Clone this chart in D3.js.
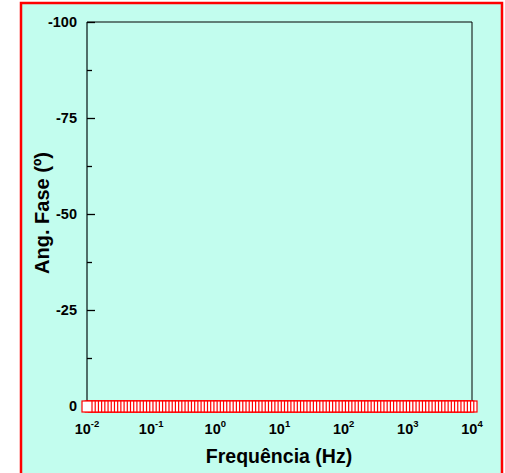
<!DOCTYPE html>
<html><head><meta charset="utf-8">
<script src="https://cdn.jsdelivr.net/npm/d3@7"></script>
<style>body{margin:0;background:#fff}svg{display:block}</style>
</head><body>
<script>
// Data
const freqExponents = [-2,-1.95,-1.9,-1.85,-1.8,-1.75,-1.7,-1.65,-1.6,-1.55,-1.5,-1.45,-1.4,-1.35,-1.3,-1.25,-1.2,-1.15,-1.1,-1.05,
 -1,-0.95,-0.9,-0.85,-0.8,-0.75,-0.7,-0.65,-0.6,-0.55,-0.5,-0.45,-0.4,-0.35,-0.3,-0.25,-0.2,-0.15,-0.1,-0.05,
 0,0.05,0.1,0.15,0.2,0.25,0.3,0.35,0.4,0.45,0.5,0.55,0.6,0.65,0.7,0.75,0.8,0.85,0.9,0.95,
 1,1.05,1.1,1.15,1.2,1.25,1.3,1.35,1.4,1.45,1.5,1.55,1.6,1.65,1.7,1.75,1.8,1.85,1.9,1.95,
 2,2.05,2.1,2.15,2.2,2.25,2.3,2.35,2.4,2.45,2.5,2.55,2.6,2.65,2.7,2.75,2.8,2.85,2.9,2.95,
 3,3.05,3.1,3.15,3.2,3.25,3.3,3.35,3.4,3.45,3.5,3.55,3.6,3.65,3.7,3.75,3.8,3.85,3.9,3.95,4];
const phaseValues = freqExponents.map(() => 0); // phase read as 0° everywhere
const xTickExponents = [-2,-1,0,1,2,3,4];
const yTicks = [-100,-75,-50,-25,0];
const yMinorTicks = [-87.5,-62.5,-37.5,-12.5];
const xLabel = "Frequência (Hz)";
const yLabel = "Ang. Fase (º)";

const W = 505, H = 473;
const svg = d3.select("body").append("svg").attr("width", W).attr("height", H);
svg.append("rect").attr("x",21).attr("y",3).attr("width",481).attr("height",H+5)
  .attr("fill","#c2fdee").attr("stroke","#ff0000").attr("stroke-width",2.5);

const L=87, R=472, T=22, B=406;
const x = d3.scaleLog().domain([1e-2,1e4]).range([L,R]);
const y = d3.scaleLinear().domain([-100,0]).range([T,B]);
const font = "Arial, 'Liberation Sans', sans-serif";

// frame
svg.append("line").attr("x1",L).attr("x2",R).attr("y1",T).attr("y2",T).attr("stroke","#000").attr("stroke-width",1);
svg.append("line").attr("x1",R).attr("x2",R).attr("y1",T).attr("y2",B).attr("stroke","#000").attr("stroke-width",1);
svg.append("line").attr("x1",L).attr("x2",R).attr("y1",B).attr("y2",B).attr("stroke","#000").attr("stroke-width",1);
svg.append("line").attr("x1",L).attr("x2",L).attr("y1",T).attr("y2",B).attr("stroke","#4f6f69").attr("stroke-width",2);

// y ticks
const yAxis = d3.axisRight(y).tickValues(yTicks).tickSize(8).tickFormat("");
const gy = svg.append("g").attr("transform",`translate(${L},0)`).call(yAxis);
gy.select(".domain").remove();
gy.selectAll("line").attr("stroke","#000").attr("stroke-width",1.3);
const yAxisMinor = d3.axisRight(y).tickValues(yMinorTicks).tickSize(5).tickFormat("");
const gym = svg.append("g").attr("transform",`translate(${L},0)`).call(yAxisMinor);
gym.select(".domain").remove();
gym.selectAll("line").attr("stroke","#000").attr("stroke-width",1.3);
svg.selectAll(".ylab").data(yTicks).enter().append("text")
  .attr("x",L-10).attr("y",d=>y(d)+5).attr("text-anchor","end")
  .attr("font-family",font).attr("font-weight","bold").attr("font-size",14.5)
  .text(d=>d);

// x ticks
const xAxis = d3.axisTop(x).tickValues(xTickExponents.map(e=>Math.pow(10,e))).tickSize(6).tickFormat("");
const gx = svg.append("g").attr("transform",`translate(0,${B})`).call(xAxis);
gx.select(".domain").remove();
gx.selectAll("line").attr("stroke","#000").attr("stroke-width",1);
const xl = svg.selectAll(".xlab").data(xTickExponents).enter().append("text")
  .attr("x",d=>x(Math.pow(10,d))).attr("y",434).attr("text-anchor","middle")
  .attr("font-family",font).attr("font-weight","bold").attr("font-size",14.5);
xl.append("tspan").text("10");
xl.append("tspan").attr("dy",-7).attr("font-size",9.5).text(d=>d);

// markers (drawn from high to low frequency, so the lowest one sits on top)
const order = d3.range(freqExponents.length).reverse();
svg.append("g").selectAll("rect").data(order).enter().append("rect")
  .attr("x",i=>x(Math.pow(10,freqExponents[i]))-5).attr("y",i=>y(phaseValues[i])-5)
  .attr("width",10).attr("height",11)
  .attr("fill","#fff").attr("stroke","#ff0000").attr("stroke-width",1.2);

// titles
svg.append("text").attr("x",279).attr("y",463).attr("text-anchor","middle")
  .attr("font-family",font).attr("font-weight","bold").attr("font-size",19.5).text(xLabel);
svg.append("text").attr("transform","translate(49,213) rotate(-90)").attr("text-anchor","middle")
  .attr("font-family",font).attr("font-weight","bold").attr("font-size",20).text(yLabel);
</script>
</body></html>
